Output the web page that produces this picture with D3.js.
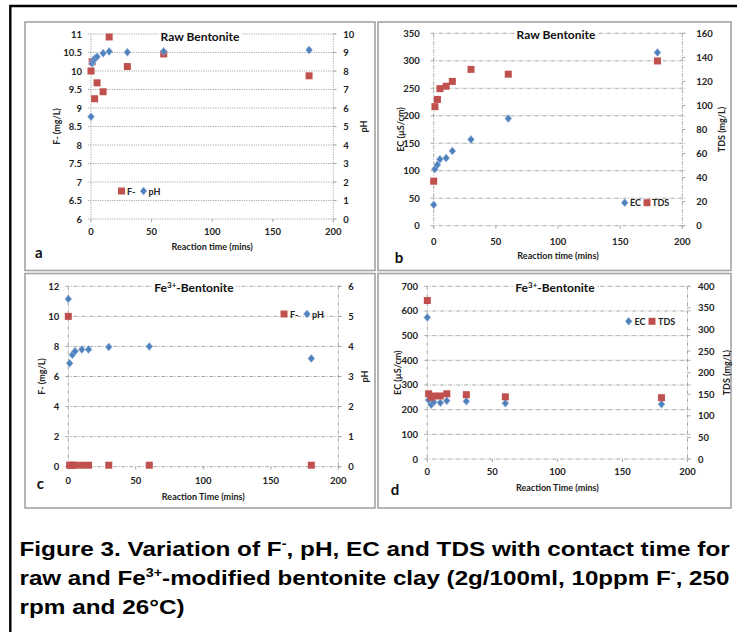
<!DOCTYPE html>
<html><head><meta charset="utf-8">
<script src="https://cdn.jsdelivr.net/npm/d3@7"></script>
<style>body{margin:0;background:#fff}svg{display:block}</style>
</head><body>
<script>
// ---------------- DATA ----------------
const times = [0, 1, 3, 5, 10, 15, 30, 60, 180];
const timesPHRaw = [0, 1, 2, 3, 5, 10, 15, 30, 60, 180];
const fluorideRaw = [10.0, 10.25, 9.25, 9.68, 9.44, 10.92, 10.12, 10.46, 9.87];
const pHRaw = [5.53, 8.42, 8.56, 8.68, 8.77, 8.96, 9.06, 9.01, 9.06, 9.14];
const ecRaw = [38, 103, 111, 121, 123, 136, 157, 195, 315];
const tdsRaw = [37, 99, 105, 114, 116, 120, 130, 126, 137];
const fluorideFe = [10.0, 0.1, 0.1, 0.1, 0.1, 0.1, 0.1, 0.1, 0.1];
const pHFe = [5.58, 3.44, 3.72, 3.84, 3.90, 3.90, 3.98, 4.00, 3.60];
const ecFe = [574, 239, 220, 231, 228, 236, 234, 226, 222];
const tdsFe = [367, 151, 143, 146, 146, 151, 149, 144, 142];

const xTicks = [0, 50, 100, 150, 200];
const ticksA_left = [6, 6.5, 7, 7.5, 8, 8.5, 9, 9.5, 10, 10.5, 11];
const ticksA_right = [0, 1, 2, 3, 4, 5, 6, 7, 8, 9, 10];
const ticksB_left = [0, 50, 100, 150, 200, 250, 300, 350];
const ticksB_right = [0, 20, 40, 60, 80, 100, 120, 140, 160];
const ticksC_left = [0, 2, 4, 6, 8, 10, 12];
const ticksC_right = [0, 1, 2, 3, 4, 5, 6];
const ticksD_left = [0, 100, 200, 300, 400, 500, 600, 700];
const ticksD_right = [0, 50, 100, 150, 200, 250, 300, 350, 400];

const RED = "#C0504D", BLUE = "#4F81BD";
const FONT = "Lato, 'Open Sans', sans-serif";

const svg = d3.select("body").append("svg").attr("width", 737).attr("height", 632);
svg.append("rect").attr("width", 737).attr("height", 632).attr("fill", "#fff");
// outer black frame
svg.append("path").attr("d", "M10.3,640 L10.3,6 L740,6").attr("fill", "none").attr("stroke", "#000").attr("stroke-width", 2.4);

function square(g, x, y, color) {
  g.append("rect").attr("x", x - 3.5).attr("y", y - 3.5).attr("width", 7).attr("height", 7).attr("fill", color);
}
function diamond(g, x, y, color) {
  g.append("path").attr("d", `M${x},${y-4}L${x+3.4},${y}L${x},${y+4}L${x-3.4},${y}Z`).attr("fill", color)
   .attr("stroke", "#9db7dc").attr("stroke-width", 0.6);
}

function panel(c) {
  const g = svg.append("g");
  g.append("rect").attr("x", c.box[0]).attr("y", c.box[1]).attr("width", c.box[2] - c.box[0]).attr("height", c.box[3] - c.box[1])
    .attr("fill", "#fff").attr("stroke", "#a3a3a3").attr("stroke-width", 1.6);
  const x = d3.scaleLinear().domain([0, 200]).range([c.px0, c.px1]);
  const yL = d3.scaleLinear().domain([c.ticksL[0], c.ticksL[c.ticksL.length - 1]]).range([c.pyB, c.pyT]);
  const yR = d3.scaleLinear().domain([c.ticksR[0], c.ticksR[c.ticksR.length - 1]]).range([c.pyB, c.pyT]);
  const gridColor = "#a8a8a8";
  g.selectAll(null).data(c.ticksL).join("line")
    .attr("x1", c.px0 - 3).attr("x2", c.px1 + 3).attr("y1", d => yL(d)).attr("y2", d => yL(d))
    .attr("stroke", gridColor).attr("stroke-width", 1).attr("stroke-dasharray", c.dash);
  [c.px0, c.px1].forEach(px => g.append("line").attr("x1", px).attr("x2", px).attr("y1", c.pyT).attr("y2", c.pyB + 3)
    .attr("stroke", gridColor).attr("stroke-width", 1).attr("stroke-dasharray", c.dash));
  g.selectAll(null).data(xTicks).join("line")
    .attr("x1", d => x(d)).attr("x2", d => x(d)).attr("y1", c.pyB).attr("y2", c.pyB + 3)
    .attr("stroke", gridColor).attr("stroke-width", 1);
  g.selectAll(null).data(c.ticksR).join("line")
    .attr("x1", c.px1).attr("x2", c.px1 + 3).attr("y1", d => yR(d)).attr("y2", d => yR(d))
    .attr("stroke", gridColor).attr("stroke-width", 1);
  const tl = { "font-family": FONT, "font-weight": "bold", "font-size": "9.5px", fill: "#222" };
  const setA = (sel, o) => { for (const k in o) sel.attr(k, o[k]); return sel; };
  setA(g.selectAll(null).data(c.ticksL).join("text").attr("x", c.px0 - c.padL).attr("y", d => yL(d))
    .attr("text-anchor", "end").attr("dominant-baseline", "central").text(d => d), tl);
  setA(g.selectAll(null).data(c.ticksR).join("text").attr("x", c.px1 + c.padR).attr("y", d => yR(d))
    .attr("text-anchor", "start").attr("dominant-baseline", "central").text(d => d), tl);
  setA(g.selectAll(null).data(xTicks).join("text").attr("x", d => x(d)).attr("y", c.pyB + c.padX)
    .attr("text-anchor", "middle").attr("dominant-baseline", "central").text(d => d), tl);
  const at = { "font-family": FONT, "font-weight": "bold", "font-size": "9px", fill: "#222", "text-anchor": "middle", "dominant-baseline": "central" };
  const my = (c.pyT + c.pyB) / 2;
  setA(g.append("text").attr("transform", `translate(${c.titleLx},${my}) rotate(-90)`).text(c.titleL), at);
  setA(g.append("text").attr("transform", `translate(${c.titleRx},${my}) rotate(-90)`).text(c.titleR), at);
  setA(g.append("text").attr("x", (c.px0 + c.px1) / 2).attr("y", c.xTitleY).text(c.xTitle), at);
  const tt = g.append("text").attr("x", c.titleX).attr("y", c.titleY).attr("text-anchor", "middle")
    .attr("font-family", FONT).attr("font-weight", "bold").attr("font-size", "12px").attr("fill", "#111");
  if (c.fe) {
    tt.append("tspan").text("Fe");
    tt.append("tspan").attr("font-size", "8px").attr("dy", -4).text("3+");
    tt.append("tspan").attr("dy", 4).text("-Bentonite");
  } else tt.text("Raw Bentonite");
  const bb = tt.node().getBBox();
  g.insert("rect", "text").attr("x", bb.x - 2).attr("y", bb.y + 1).attr("width", bb.width + 4).attr("height", bb.height - 2).attr("fill", "#fff");
  g.append("text").attr("x", c.letter[0]).attr("y", c.letter[1]).text(c.letter[2])
    .attr("font-family", FONT).attr("font-weight", "bold").attr("font-size", "15px").attr("fill", "#111");
  c.series.forEach(s => {
    const ys = s.axis === "L" ? yL : yR;
    s.t.forEach((t, i) => (s.shape === "sq" ? square : diamond)(g, x(t), ys(s.v[i]), s.color));
  });
  const lt = { "font-family": FONT, "font-weight": "bold", "font-size": "9px", fill: "#222", "dominant-baseline": "central" };
  c.legend.forEach(l => {
    (l.shape === "sq" ? square : diamond)(g, l.mx, c.legY, l.color);
    setA(g.append("text").attr("x", l.tx).attr("y", c.legY).text(l.label), lt);
  });
}

panel({
  box: [25, 22, 375, 270.5], px0: 91, px1: 333.3, pyT: 34, pyB: 219, dash: "1.2,1.2",
  ticksL: ticksA_left, ticksR: ticksA_right, padL: 9, padR: 10, padX: 12.7,
  titleL: "F- (mg/L)", titleR: "pH", titleLx: 56, titleRx: 363, xTitle: "Reaction time (mins)", xTitleY: 246,
  titleX: 200, titleY: 40.7, fe: false, letter: [35, 258.3, "a"],
  series: [
    { t: times, v: fluorideRaw, axis: "L", shape: "sq", color: RED },
    { t: timesPHRaw, v: pHRaw, axis: "R", shape: "di", color: BLUE }
  ],
  legY: 191,
  legend: [
    { shape: "sq", color: RED, mx: 121.5, tx: 127, label: "F-" },
    { shape: "di", color: BLUE, mx: 143.5, tx: 148.5, label: "pH" }
  ]
});

panel({
  box: [378, 22, 731, 270.5], px0: 433.7, px1: 682.3, pyT: 33.3, pyB: 225.7, dash: "4,1.5,1,1.5",
  ticksL: ticksB_left, ticksR: ticksB_right, padL: 14, padR: 14, padX: 15.3,
  titleL: "EC (µS/cm)", titleR: "TDS (mg/L)", titleLx: 400, titleRx: 721, xTitle: "Reaction time (mins)", xTitleY: 255,
  titleX: 556, titleY: 38.7, fe: false, letter: [394.7, 263.3, "b"],
  series: [
    { t: times, v: ecRaw, axis: "L", shape: "di", color: BLUE },
    { t: times, v: tdsRaw, axis: "R", shape: "sq", color: RED }
  ],
  legY: 202.7,
  legend: [
    { shape: "di", color: BLUE, mx: 624.7, tx: 630, label: "EC" },
    { shape: "sq", color: RED, mx: 647, tx: 652, label: "TDS" }
  ]
});

panel({
  box: [25, 273.5, 375, 508], px0: 68.3, px1: 338.3, pyT: 286.3, pyB: 466.7, dash: "4,1.5,1,1.5",
  ticksL: ticksC_left, ticksR: ticksC_right, padL: 9, padR: 10, padX: 14,
  titleL: "F- (mg/L)", titleR: "pH", titleLx: 41.5, titleRx: 364, xTitle: "Reaction Time (mins)", xTitleY: 496,
  titleX: 194, titleY: 292, fe: true, letter: [36.7, 489, "c"],
  series: [
    { t: times, v: fluorideFe, axis: "L", shape: "sq", color: RED },
    { t: times, v: pHFe, axis: "R", shape: "di", color: BLUE }
  ],
  legY: 314,
  legend: [
    { shape: "sq", color: RED, mx: 284, tx: 290, label: "F-" },
    { shape: "di", color: BLUE, mx: 307, tx: 312, label: "pH" }
  ]
});

panel({
  box: [378, 273.5, 731, 508], px0: 427.3, px1: 687.5, pyT: 286.3, pyB: 459, dash: "4,1.5,1,1.5",
  ticksL: ticksD_left, ticksR: ticksD_right, padL: 9.3, padR: 10.5, padX: 12.7,
  titleL: "EC (µS/cm)", titleR: "TDS (mg/L)", titleLx: 397, titleRx: 726, xTitle: "Reaction Time (mins)", xTitleY: 487,
  titleX: 555, titleY: 292, fe: true, letter: [390.7, 495, "d"],
  series: [
    { t: times, v: ecFe, axis: "L", shape: "di", color: BLUE },
    { t: times, v: tdsFe, axis: "R", shape: "sq", color: RED }
  ],
  legY: 321.3,
  legend: [
    { shape: "di", color: BLUE, mx: 628.7, tx: 634.5, label: "EC" },
    { shape: "sq", color: RED, mx: 652, tx: 658, label: "TDS" }
  ]
});

// ---------------- CAPTION ----------------
const CAPF = "'Liberation Sans', Arial, sans-serif";
function capLine(y, parts, targetW, fixedScale) {
  const t = svg.append("text").attr("x", 0).attr("y", 0).attr("font-family", CAPF).attr("font-weight", "bold")
    .attr("font-size", "21px").attr("fill", "#000");
  parts.forEach(p => {
    const s = t.append("tspan").text(p[0]);
    if (p[1] === "sup") s.attr("font-size", "12.5px").attr("dy", -8.5);
    if (p[1] === "down") s.attr("dy", 8.5);
  });
  const w = t.node().getComputedTextLength();
  const sx = targetW ? targetW / w : fixedScale;
  t.attr("transform", `translate(19.5,${y}) scale(${sx},1)`);
  return sx;
}
const sx1 = capLine(556, [["Figure 3. Variation of F"], ["-", "sup"], [", pH, EC and TDS with contact time for", "down"]], 710.5);
capLine(585, [["raw and Fe"], ["3+", "sup"], ["-modified bentonite clay (2g/100ml, 10ppm F", "down"], ["-", "sup"], [", 250", "down"]], 710.5);
capLine(614, [["rpm and 26°C)"]], null, sx1);
</script>
</body></html>
